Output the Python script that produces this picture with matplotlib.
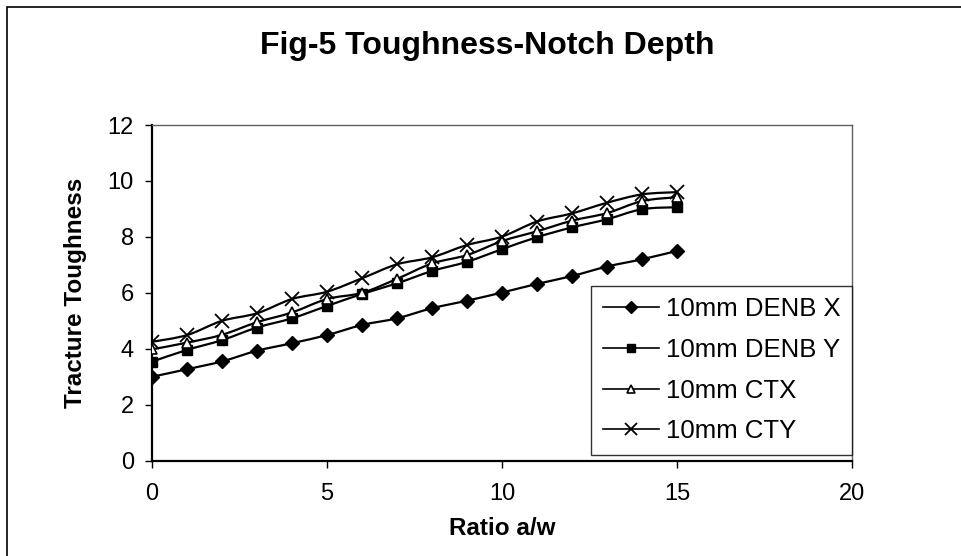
import matplotlib
matplotlib.use("Agg")
import matplotlib.pyplot as plt
from matplotlib.path import Path
from matplotlib.patches import PathPatch, Rectangle
import numpy as np

plt.rcParams['font.family'] = ['Liberation Sans', 'DejaVu Sans']

# data
ratio = list(range(16))
denb_x = [3.0, 3.27, 3.55, 3.93, 4.2, 4.49, 4.85, 5.09, 5.45, 5.72, 6.01, 6.32, 6.6, 6.94, 7.2, 7.5]
denb_y = [3.54, 3.96, 4.31, 4.76, 5.09, 5.53, 5.96, 6.34, 6.78, 7.11, 7.56, 7.99, 8.34, 8.63, 8.99, 9.06]
ctx = [3.98, 4.22, 4.5, 4.95, 5.3, 5.78, 6.0, 6.5, 7.05, 7.35, 7.85, 8.2, 8.58, 8.85, 9.28, 9.42]
cty = [4.25, 4.49, 5.0, 5.27, 5.78, 6.04, 6.52, 7.02, 7.27, 7.71, 8.01, 8.55, 8.84, 9.22, 9.52, 9.6]
labels = ['10mm DENB X', '10mm DENB Y', '10mm CTX', '10mm CTY']
x_ticks = [0, 5, 10, 15, 20]
y_ticks = [0, 2, 4, 6, 8, 10, 12]


def smooth_path(xs, ys):
    # Excel style smoothed line: cubic bezier with catmull-rom control points
    pts = np.column_stack([xs, ys]).astype(float)
    verts = [pts[0]]
    codes = [Path.MOVETO]
    n = len(pts)
    for i in range(n - 1):
        p0 = pts[i - 1] if i > 0 else pts[i]
        p1 = pts[i]
        p2 = pts[i + 1]
        p3 = pts[i + 2] if i + 2 < n else pts[i + 1]
        c1 = p1 + (p2 - p0) / 6.0
        c2 = p2 - (p3 - p1) / 6.0
        verts += [c1, c2, p2]
        codes += [Path.CURVE4] * 3
    return Path(verts, codes)


fig = plt.figure(figsize=(9.61, 5.56), dpi=100)
ax = fig.add_axes([152 / 961, 95.3 / 556, 700 / 961, 335.7 / 556])

# outer chart border
fig.patches.append(Rectangle((7 / 961, -0.1), 1.2, (556 - 7) / 556 + 0.1,
                             transform=fig.transFigure, fill=False,
                             edgecolor='black', linewidth=1.2))

series = [denb_x, denb_y, ctx, cty]
markers = [
    dict(marker='D', markersize=7.5, markerfacecolor='black', markeredgecolor='black'),
    dict(marker='s', markersize=7.5, markerfacecolor='black', markeredgecolor='black'),
    dict(marker='^', markersize=7, markerfacecolor='white', markeredgecolor='black', markeredgewidth=1.2),
    dict(marker='x', markersize=10, markeredgecolor='black', markeredgewidth=1.3),
]
for ys, lab, mk in zip(series, labels, markers):
    ax.add_patch(PathPatch(smooth_path(ratio, ys), fill=False, edgecolor='black',
                           linewidth=1.6, zorder=2))
    ax.plot(ratio, ys, linestyle='none', zorder=3, **mk)
    # legend proxy
    ax.plot([], [], color='black', linewidth=1.2, label=lab,
            **{k: (v * 0.85 if k == 'markersize' else v) for k, v in mk.items()})

ax.set_xlim(0, 20)
ax.set_ylim(0, 12)
ax.set_xticks(x_ticks)
ax.set_yticks(y_ticks)
ax.tick_params(direction='out', length=5, width=1, labelsize=17, color='black')
ax.tick_params(axis='x', pad=11)
ax.tick_params(axis='y', pad=8)

for s in ['left', 'bottom']:
    ax.spines[s].set_linewidth(1.6)
    ax.spines[s].set_color('black')
for s in ['top', 'right']:
    ax.spines[s].set_linewidth(1.0)
    ax.spines[s].set_color('#606060')

ax.set_xlabel('Ratio a/w', fontsize=17.5, fontweight='bold', labelpad=9)
ax.set_ylabel('Tracture Toughness', fontsize=17.5, fontweight='bold', labelpad=15)
fig.text(487 / 961, 1 - 46 / 556, 'Fig-5 Toughness-Notch Depth', fontsize=23,
         fontweight='bold', ha='center', va='center')

leg = ax.legend(loc='lower right', bbox_to_anchor=(1.0, 0.017), fontsize=18.5,
                frameon=True, fancybox=False, edgecolor='black', handlelength=2.2,
                labelspacing=0.65, borderpad=0.45, handletextpad=0.25,
                borderaxespad=0)
leg.get_frame().set_linewidth(1.0)

fig.savefig('out.png', dpi=100)
